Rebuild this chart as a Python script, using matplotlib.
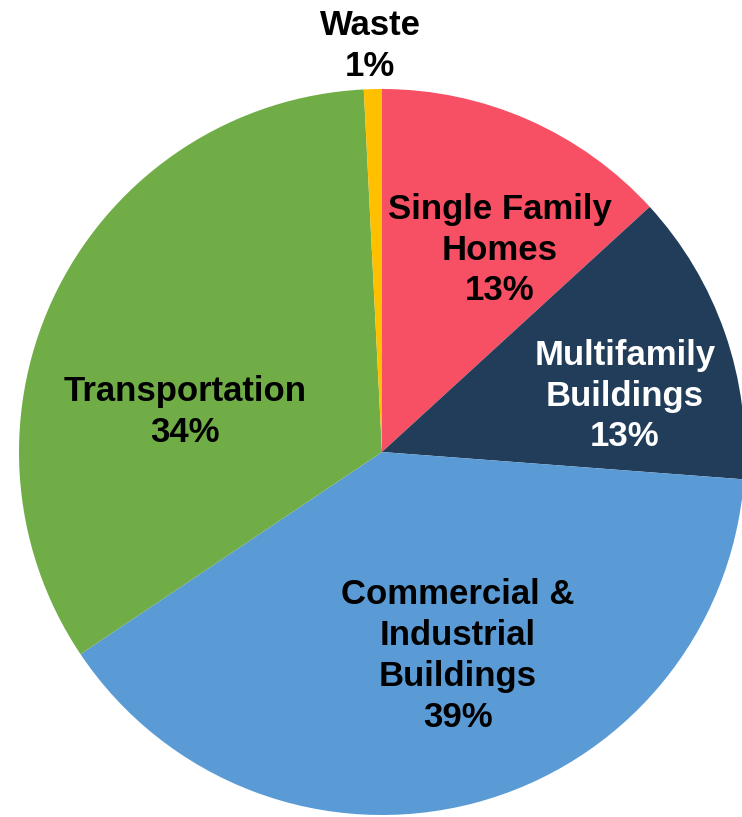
import matplotlib
matplotlib.use("Agg")
import matplotlib.pyplot as plt

categories = ["Single Family\nHomes", "Multifamily\nBuildings", "Commercial &\nIndustrial\nBuildings", "Transportation", "Waste"]
values = [13.2, 13.0, 39.4, 33.6, 0.8]
colors = ["#F75064", "#213D59", "#5B9BD5", "#70AD47", "#FFC000"]
text_colors = ["black", "white", "black", "black", "black"]
# label centres in figure pixel coordinates (x, y from top)
label_pos = [(500, 250), (625, 396), (458, 656), (185, 412), (370, 46)]

W, H = 742, 817
fig = plt.figure(figsize=(W / 100, H / 100), dpi=100)
ax = fig.add_axes([0, 0, 1, 1])

ax.pie(values, colors=colors, startangle=90, counterclock=False,
       radius=363, center=(382, H - 452), frame=True,
       wedgeprops=dict(linewidth=0))
ax.set_xlim(0, W)
ax.set_ylim(0, H)
ax.set_aspect("equal")
ax.axis("off")

for cat, v, tc, (px, py) in zip(categories, values, text_colors, label_pos):
    ax.text(px, H - py, f"{cat}\n{round(v):d}%", ha="center", va="center",
            color=tc, fontsize=25, fontweight="bold",
            family=["Liberation Sans", "DejaVu Sans"], linespacing=1.3)

fig.savefig("out.png", dpi=100)
